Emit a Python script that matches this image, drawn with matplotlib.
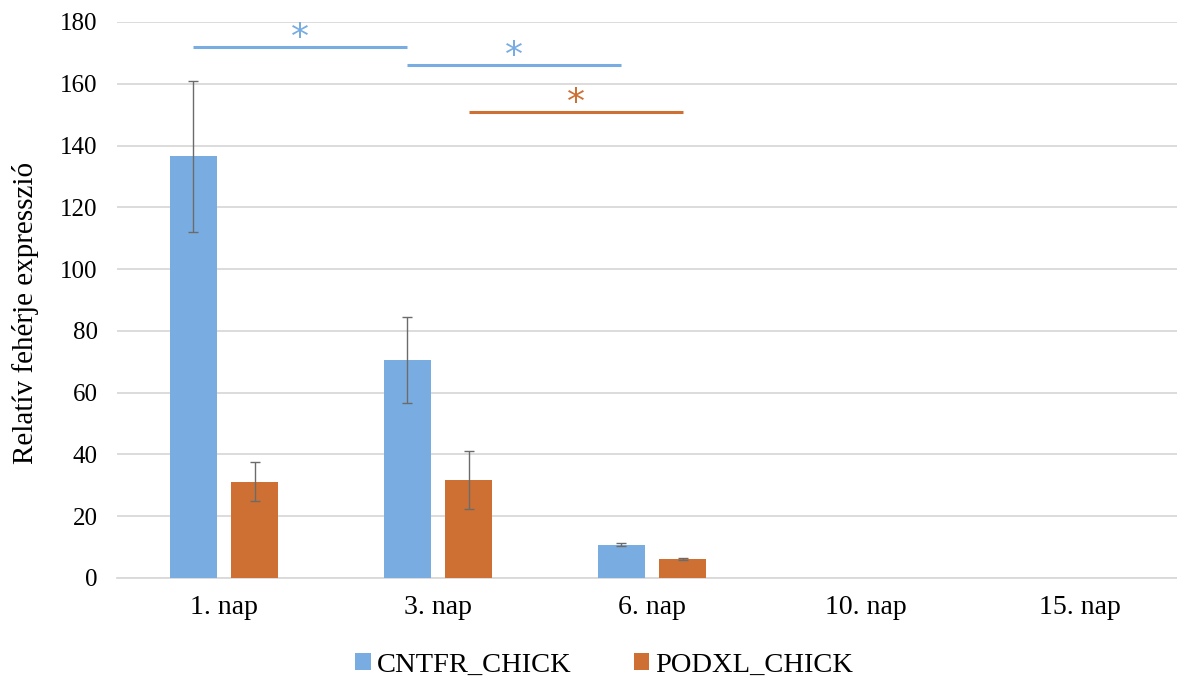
import matplotlib
matplotlib.use("Agg")
import matplotlib.pyplot as plt
import numpy as np

categories = ["1. nap", "3. nap", "6. nap", "10. nap", "15. nap"]
cntfr = [136.5, 70.6, 10.7, 0, 0]
cntfr_err = [24.4, 13.9, 0.5, 0, 0]
podxl = [31.1, 31.7, 6.2, 0, 0]
podxl_err = [6.3, 9.4, 0.25, 0, 0]
series_names = ["CNTFR_CHICK", "PODXL_CHICK"]
colors = ["#79ADE1", "#CE7033"]
# significance brackets: (from category, to category, series index, height)
sig_start = [0, 1, 1]
sig_end = [1, 2, 2]
sig_series = [0, 0, 1]
sig_height = [171.9, 166.1, 150.9]

plt.rcParams['font.family'] = ['Liberation Serif', 'DejaVu Serif']
fig = plt.figure(figsize=(11.77, 6.82), dpi=100)
ax = fig.add_axes([117/1177, 1-578/682, 1070/1177, (578-22)/682])

x = np.arange(len(categories))
w = 0.22
off = 0.144
vals = [cntfr, podxl]
errs = [cntfr_err, podxl_err]
offsets = [-off, off]
for i in range(2):
    mask = np.array(vals[i]) > 0
    ax.bar(x + offsets[i], vals[i], width=w, color=colors[i], label=series_names[i], zorder=3)
    ax.errorbar((x + offsets[i])[mask], np.array(vals[i])[mask], yerr=np.array(errs[i])[mask],
                fmt='none', ecolor='#6b6b6b', elinewidth=1.0, capsize=3.5, capthick=1.0, zorder=4)

for s, e, si, h in zip(sig_start, sig_end, sig_series, sig_height):
    x0 = s + offsets[si]
    x1 = e + offsets[si]
    ax.plot([x0, x1], [h, h], color=colors[si], lw=2.2, solid_capstyle='butt', zorder=5)
    ax.text((x0 + x1) / 2, h - 2.65, "*", color=colors[si], fontsize=26,
            ha='center', va='bottom', family=['DejaVu Sans'], zorder=5)

ax.set_xlim(-0.5, len(categories) - 0.5)
ax.set_ylim(0, 180)
ax.set_yticks(np.arange(0, 181, 20))
ax.set_xticks(x)
ax.set_xticklabels(categories)
ax.tick_params(axis='both', length=0)
ax.tick_params(axis='y', pad=14, labelsize=18)
ax.tick_params(axis='x', pad=12, labelsize=20)
ax.grid(axis='y', color='#D9D9D9', lw=1.3, zorder=0)
for sp in ['top', 'right', 'left']:
    ax.spines[sp].set_visible(False)
ax.spines['bottom'].set_color('#D9D9D9')
ax.spines['bottom'].set_linewidth(1.3)
ax.set_ylabel("Relatív fehérje expresszió", fontsize=21)
ax.yaxis.set_label_coords(-78/1070, (578-313)/556)

fig.legend(loc='center', bbox_to_anchor=(604/1177, 1-665/682), ncol=2, frameon=False,
           fontsize=20.5, handlelength=0.55, handleheight=0.55, handletextpad=0.2,
           columnspacing=2.2)

fig.savefig("out.png", dpi=100)
